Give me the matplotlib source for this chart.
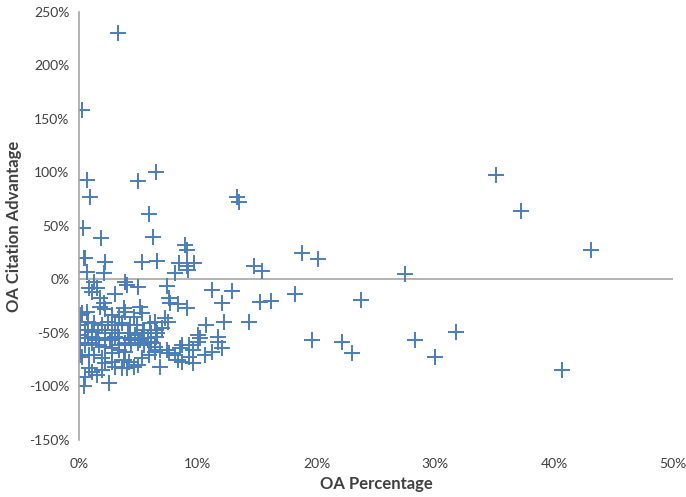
import matplotlib
matplotlib.use("Agg")
import matplotlib.pyplot as plt
from matplotlib.ticker import FuncFormatter

# OA percentage (x) and OA citation advantage (y), both in percent
oa_pct = [
    3.3, 0.25, 0.7, 0.9, 0.35, 1.85, 5.0, 6.5, 5.9, 6.2, 8.9, 9.05, 0.4, 0.5, 2.2, 5.3, 6.6, 8.4,
    9.1, 9.7, 9.2, 8.05, 0.7, 2.1, 1.3, 3.9,
    13.3, 13.5, 35.1, 37.2, 43.1, 14.7, 15.4, 18.8, 20.1, 27.4, 12.9, 15.2, 16.2, 18.2, 23.7,
    14.3, 19.6, 22.1, 23.0, 28.3, 31.7, 30.0, 40.7,
    7.4, 11.2, 12.0, 7.6, 7.7, 8.3, 9.1, 10.7, 12.2, 7.2, 6.4, 7.5, 6.5, 7.0, 6.1, 6.6, 10.0, 11.7,
    6.5, 6.1, 6.4, 6.8, 7.4, 7.6, 8.1, 8.5, 8.7, 9.3, 9.6, 10.0, 10.2, 9.3, 9.6, 8.7, 8.3, 10.6,
    11.2, 11.7, 12.0, 6.8,
    0.84, 1.5, 1.1, 4.0, 5.0, 3.0, 1.8, 2.1, 1.8, 0.7, 0.1, 0.25, 2.2, 3.8, 3.9, 2.8, 3.4, 4.6,
    5.1, 5.3, 6.0,
    0.1, 0.75, 1.3, 1.9, 2.4, 3.0, 3.6, 4.3, 4.9, 5.5, 0.5, 1.1, 1.6, 2.2, 2.8, 3.3, 4.1, 4.7,
    5.4, 0.75, 1.4, 2.6, 3.4, 4.4, 5.1, 5.8,
    0.5, 0.4, 2.5, 1.5, 1.1, 1.9, 0.8, 3.0, 3.6, 4.0, 4.6, 5.0, 2.2, 2.8, 3.8, 4.2, 0.25, 0.8,
    1.3, 1.9, 5.3, 5.9, 6.4, 0.0, 0.5, 1.1, 1.7, 2.2, 2.8, 3.4, 3.9, 4.4, 3.4, 3.9, 2.8, 5.0,
    5.5, 6.1, 1.1, 2.2, 3.0, 4.2, 5.3,
    0.1, 0.1, 0.1,
]
oa_adv = [
    230, 158, 93, 77, 48, 39, 92, 100, 61, 40, 32, 28, 20, 20, 16, 16, 17, 15,
    13, 15, 9, 6, 7, 6, -2, -2,
    77, 72, 98, 64, 28, 13, 8, 25, 19, 5, -11, -21, -20, -14, -19,
    -40, -57, -58, -69, -57, -49, -72, -85,
    -6, -10, -22, -17, -22, -23, -27, -43, -40, -36, -40, -40, -47, -45, -50, -50, -52, -54,
    -54, -59, -63, -66, -66, -69, -71, -64, -61, -61, -66, -58, -55, -72, -78, -77, -75, -71,
    -68, -58, -64, -82,
    -8, -8, -12, -5, -7, -14, -17, -22, -26, -30, -33, -31, -28, -27, -30, -33, -35, -35,
    -26, -31, -41,
    -43, -40, -41, -43, -40, -43, -41, -43, -43, -47, -47, -49, -47, -50, -47, -50, -50, -52,
    -50, -55, -57, -57, -55, -57, -57, -55,
    -91, -100, -97, -89, -86, -85, -83, -82, -83, -83, -82, -80, -78, -77, -75, -77, -72, -71,
    -71, -73, -73, -71, -68, -59, -61, -59, -61, -63, -64, -61, -59, -61, -66, -68, -69, -59,
    -61, -58, -54, -55, -54, -55, -55,
    -52, -61, -71,
]

x_ticks = [0, 10, 20, 30, 40, 50]
y_ticks = [-150, -100, -50, 0, 50, 100, 150, 200, 250]

blue = "#4a7ebb"
grey_txt = "#404040"

plt.rcParams['font.family'] = ['Lato', 'DejaVu Sans']

fig = plt.figure(figsize=(6.86, 4.97), dpi=100)
ax = fig.add_axes([0.1152, 0.1147, 0.8658, 0.8612])

ax.plot(oa_pct, oa_adv, '+', color=blue, markersize=11, markeredgewidth=1.4)

ax.set_xlim(0, 50)
ax.set_ylim(-150, 250)
ax.set_xticks(x_ticks)
ax.set_yticks(y_ticks)
fmt = FuncFormatter(lambda v, p: "%d%%" % v)
ax.xaxis.set_major_formatter(fmt)
ax.yaxis.set_major_formatter(fmt)

for s in ['top', 'right', 'bottom']:
    ax.spines[s].set_visible(False)
ax.spines['left'].set_color('#a6a6a6')
ax.spines['left'].set_linewidth(1.2)
ax.axhline(0, color='#a6a6a6', linewidth=1.2, zorder=0)

ax.tick_params(axis='both', length=0, labelsize=10, labelcolor=grey_txt)
ax.tick_params(axis='x', pad=13)
ax.tick_params(axis='y', pad=7)

ax.set_xlabel("OA Percentage", fontsize=12, fontweight='bold', color=grey_txt, labelpad=4)
ax.set_ylabel("OA Citation Advantage", fontsize=12, fontweight='bold', color=grey_txt, labelpad=5)

fig.savefig("out.png", dpi=100)
